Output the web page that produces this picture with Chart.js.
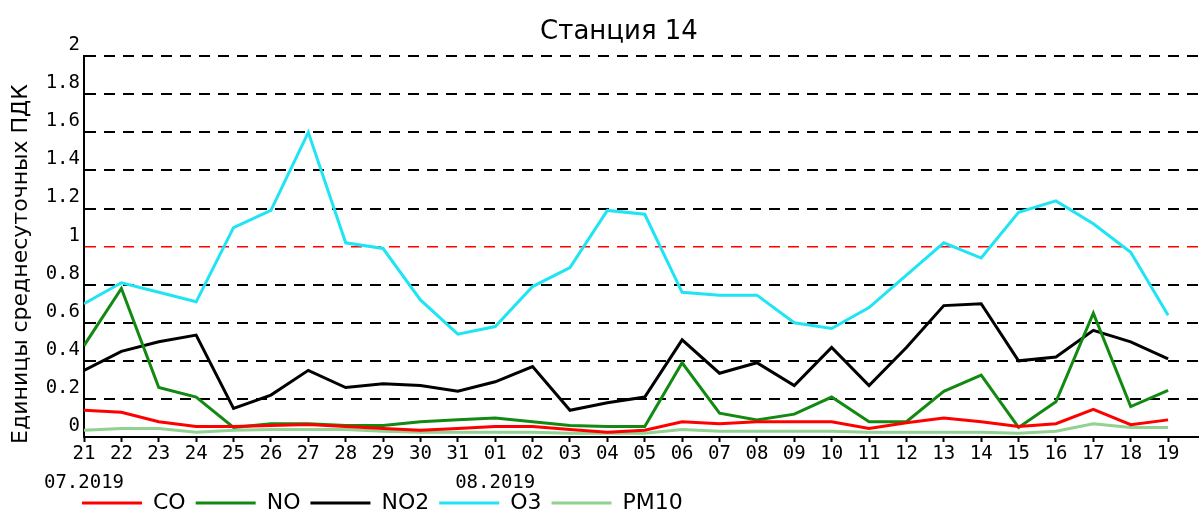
<!DOCTYPE html>
<html>
<head>
<meta charset="utf-8">
<script src="https://cdn.jsdelivr.net/npm/chart.js@4/dist/chart.umd.min.js"></script>
<style>
  html, body { margin: 0; padding: 0; background: #fff; }
  #wrap { width: 1200px; height: 515px; }
</style>
</head>
<body>
<div id="wrap"><canvas id="chart"></canvas></div>
<script>
// data
const days = ["21","22","23","24","25","26","27","28","29","30","31",
              "01","02","03","04","05","06","07","08","09","10",
              "11","12","13","14","15","16","17","18","19"];
const monthLabels = ["07.2019", "08.2019"];
const monthStartIdx = [0, 11];

const co   = [0.14,0.13,0.08,0.055,0.055,0.06,0.065,0.055,0.045,0.035,0.045,
              0.055,0.055,0.04,0.025,0.035,0.08,0.07,0.08,0.08,0.08,
              0.045,0.075,0.10,0.08,0.055,0.07,0.145,0.065,0.09];
const no   = [0.48,0.78,0.26,0.21,0.05,0.07,0.07,0.06,0.06,0.08,0.09,
              0.10,0.08,0.06,0.055,0.055,0.39,0.125,0.09,0.12,0.21,
              0.08,0.08,0.24,0.325,0.05,0.185,0.65,0.16,0.245];
const no2  = [0.35,0.45,0.50,0.535,0.15,0.22,0.35,0.26,0.28,0.27,0.24,
              0.29,0.37,0.14,0.18,0.21,0.51,0.335,0.39,0.27,0.47,
              0.27,0.47,0.69,0.70,0.40,0.42,0.56,0.50,0.41];
const o3   = [0.70,0.81,0.76,0.71,1.10,1.19,1.60,1.02,0.99,0.72,0.54,
              0.58,0.79,0.89,1.19,1.17,0.76,0.745,0.745,0.60,0.57,
              0.68,0.85,1.02,0.94,1.18,1.24,1.12,0.97,0.64];
const pm10 = [0.035,0.045,0.045,0.025,0.035,0.04,0.04,0.04,0.03,0.025,0.025,
              0.025,0.025,0.02,0.02,0.02,0.04,0.03,0.03,0.03,0.03,
              0.025,0.025,0.025,0.025,0.02,0.03,0.07,0.05,0.05];

const seriesNames  = ["CO", "NO", "NO2", "O3", "PM10"];
const seriesValues = [co, no, no2, o3, pm10];
const seriesColors = ["#ff0000", "#128a12", "#000000", "#1fe4f4", "#90d290"];

const toPoints = arr => arr.map((v, i) => ({ x: i, y: v }));

// legend starts under the plot's left edge, title sits a bit right of centre
const nudgeBoxes = {
    id: "nudgeBoxes",
    afterLayout(chart) {
        if (chart.legend) {
            chart.legend.left = chart.chartArea.left - 12;
            chart.legend.top -= 10;
        }
        if (chart.titleBlock) chart.titleBlock.left += 40;
    }
};

new Chart(document.getElementById("chart"), {
    type: "line",
    data: {
        datasets: seriesNames.map((name, k) => ({
            label: name,
            data: toPoints(seriesValues[k]),
            borderColor: seriesColors[k],
            backgroundColor: seriesColors[k],
            borderWidth: 3,
            pointRadius: 0,
            tension: 0,
            fill: false
        }))
    },
    options: {
        responsive: true,
        maintainAspectRatio: false,
        animation: false,
        // legend box is taller than the room it really needs, let it hang below
        layout: { padding: { right: 2, bottom: -19 } },
        plugins: {
            title: {
                display: true,
                text: "Станция 14",
                color: "#000",
                font: { family: "DejaVu Sans", size: 26, weight: "normal" },
                padding: { top: 17, bottom: 8 }
            },
            legend: {
                position: "bottom",
                align: "start",
                labels: {
                    color: "#000",
                    font: { family: "DejaVu Sans", size: 22 },
                    usePointStyle: true,
                    pointStyle: "line",
                    pointStyleWidth: 60,
                    padding: 10
                }
            },
            tooltip: { enabled: false }
        },
        scales: {
            x: {
                type: "linear",
                min: 0,
                max: 29.8,
                afterFit: scale => { scale.height = 55; },
                grid: {
                    drawOnChartArea: false,
                    drawTicks: true,
                    tickLength: 5,
                    tickColor: "#000",
                    tickWidth: 2
                },
                border: { color: "#000", width: 2 },
                ticks: {
                    stepSize: 1,
                    autoSkip: false,
                    maxRotation: 0,
                    includeBounds: false,
                    padding: -2,
                    color: "#000",
                    font: { family: "DejaVu Sans Mono", size: 19, lineHeight: 1.5 },
                    callback: v => {
                        const d = days[v];
                        if (d === undefined) return "";
                        const m = monthStartIdx.indexOf(v);
                        return m >= 0 ? [d, monthLabels[m]] : d;
                    }
                }
            },
            y: {
                min: 0,
                max: 2,
                afterFit: scale => { scale.width = 84; },
                grid: {
                    drawTicks: false,
                    color: ctx => ctx.tick && ctx.tick.value === 1 ? "#ff0000" : "#000",
                    lineWidth: ctx => ctx.tick && ctx.tick.value === 1 ? 1.5 : 2
                },
                border: { color: "#000", width: 2, dash: [11, 8] },
                ticks: {
                    stepSize: 0.2,
                    padding: 4,
                    labelOffset: -11,
                    color: "#000",
                    font: { family: "DejaVu Sans Mono", size: 19 },
                    callback: v => String(Number(v.toFixed(1)))
                },
                title: {
                    display: true,
                    text: "Единицы среднесуточных ПДК     ",
                    color: "#000",
                    font: { family: "DejaVu Sans", size: 22 },
                    padding: { top: 8, bottom: 0 }
                }
            }
        }
    },
    plugins: [nudgeBoxes]
});
</script>
</body>
</html>
